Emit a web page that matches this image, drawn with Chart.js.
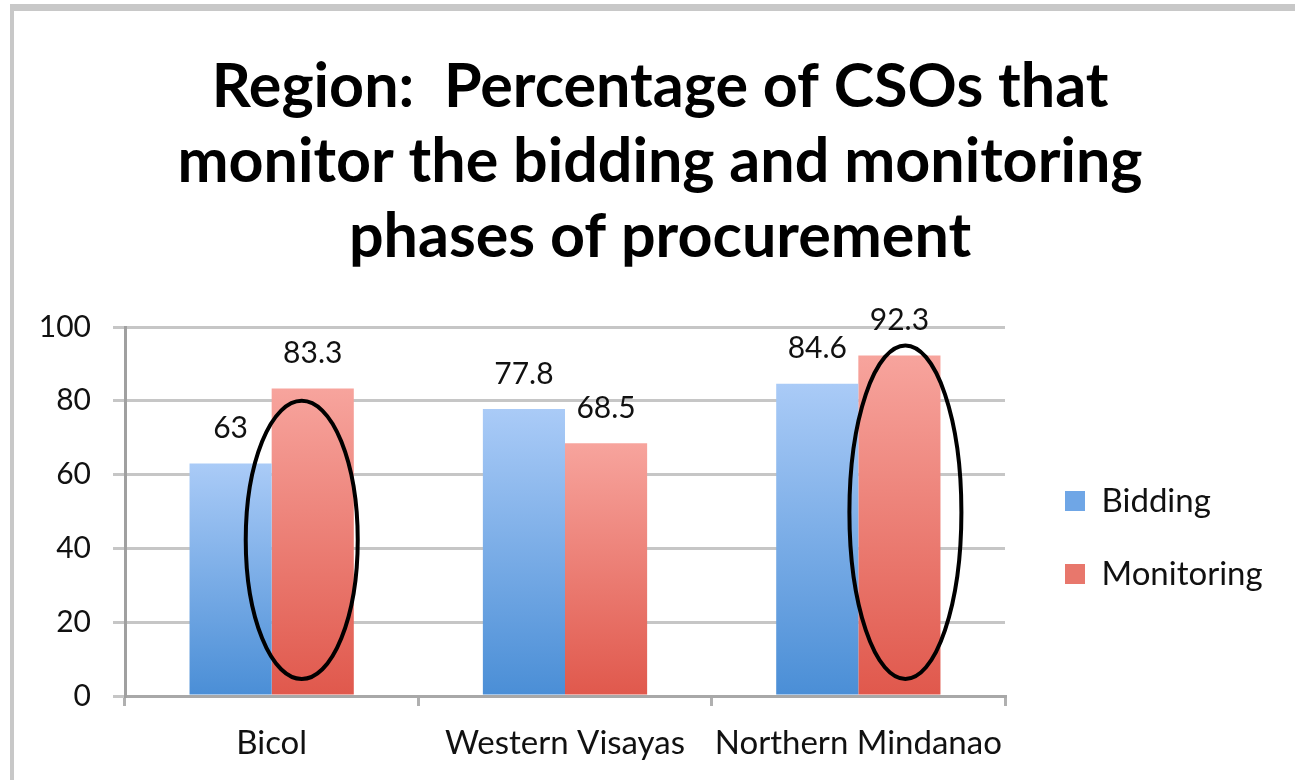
<!DOCTYPE html>
<html>
<head>
<meta charset="utf-8">
<script src="https://cdn.jsdelivr.net/npm/chart.js@4.4.1/dist/chart.umd.min.js"></script>
<style>
  html, body { margin: 0; padding: 0; background: #ffffff; }
  #wrap { position: relative; width: 1295px; height: 780px; overflow: hidden; }
  #frame { position: absolute; left: 10px; top: 4px; width: 1300px; height: 800px;
           border-top: 7px solid #c8c8c8; border-left: 4px solid #c8c8c8; pointer-events: none; }
  canvas { position: absolute; left: 0; top: 0; }
</style>
</head>
<body>
<div id="wrap">
  <canvas id="c" width="1295" height="780"></canvas>
  <div id="frame"></div>
</div>
<script>
// ---- data ----
const titleLines = ['Region:  Percentage of CSOs that', 'monitor the bidding and monitoring', 'phases of procurement'];
const categories = ['Bicol', 'Western Visayas', 'Northern Mindanao'];
const seriesNames = ['Bidding', 'Monitoring'];
const biddingValues = [63, 77.8, 84.6];
const monitoringValues = [83.3, 68.5, 92.3];
const yTicks = [0, 20, 40, 60, 80, 100];
// highlighted (circled) Monitoring bars: category, value range spanned by ellipse
const highlightCategories = ['Bicol', 'Northern Mindanao'];
const highlightTop = [80, 95];
const highlightBottom = [4.6, 4.6];

// ---- styles ----
const FONT = 'Lato, "Open Sans", sans-serif';
const ellipseStyle = { halfWidth: 56, xOffset: { 'Bicol': -11, 'Northern Mindanao': 6 }, lineWidth: 4 };

function barGradient(ctx, topColor, bottomColor) {
  const chart = ctx.chart;
  if (!chart.chartArea || !chart.scales.y) return bottomColor;
  const y = chart.scales.y;
  const top = y.getPixelForValue(ctx.raw);
  const bottom = y.getPixelForValue(0);
  if (!isFinite(top) || !isFinite(bottom) || top === bottom) return bottomColor;
  const g = chart.ctx.createLinearGradient(0, top, 0, bottom);
  g.addColorStop(0, topColor);
  g.addColorStop(1, bottomColor);
  return g;
}

const layoutPlugin = {
  id: 'layoutTweaks',
  beforeInit(chart) {
    const lg = chart.legend;
    if (lg) {
      const origFit = lg.fit;
      lg.fit = function () { origFit.apply(this, arguments); this.width = 290; };
    }
  },
  afterLayout(chart) {
    const lg = chart.legend;
    if (!lg) return;
    const pad = lg.options.labels.padding;
    const targetBoxLeft = 1065;
    const dx = targetBoxLeft - (lg.left + pad);
    lg.left += dx; lg.right += dx;
    const itemH = lg.options.labels.font.size;
    const colH = lg.columnSizes && lg.columnSizes[0] ? lg.columnSizes[0].height : 0;
    const startY = ((lg.top + pad) + (lg.bottom - colH)) / 2;
    const dy = (501 - itemH / 2) - startY;
    lg.top += dy; lg.bottom += dy;
  }
};

const labelPlugin = {
  id: 'valueLabels',
  afterDatasetsDraw(chart) {
    const ctx = chart.ctx;
    ctx.save();
    ctx.font = '30px ' + FONT;
    ctx.fillStyle = '#111111';
    ctx.textAlign = 'center';
    ctx.textBaseline = 'middle';
    chart.data.datasets.forEach((ds, di) => {
      const meta = chart.getDatasetMeta(di);
      meta.data.forEach((bar, i) => {
        ctx.fillText(String(ds.data[i]), bar.x, bar.y - 35);
      });
    });
    ctx.restore();
  }
};

const ellipsePlugin = {
  id: 'highlightEllipses',
  afterDatasetsDraw(chart) {
    const ctx = chart.ctx;
    const y = chart.scales.y;
    const meta = chart.getDatasetMeta(1);
    ctx.save();
    ctx.strokeStyle = '#000000';
    ctx.lineWidth = ellipseStyle.lineWidth;
    highlightCategories.forEach((cat, k) => {
      const idx = categories.indexOf(cat);
      const bar = meta.data[idx];
      if (!bar) return;
      const cx = bar.x + (ellipseStyle.xOffset[cat] || 0);
      const top = y.getPixelForValue(highlightTop[k]);
      const bottom = y.getPixelForValue(highlightBottom[k]);
      ctx.beginPath();
      ctx.ellipse(cx, (top + bottom) / 2, ellipseStyle.halfWidth, (bottom - top) / 2, 0, 0, Math.PI * 2);
      ctx.stroke();
    });
    ctx.restore();
  }
};

new Chart(document.getElementById('c'), {
  type: 'bar',
  data: {
    labels: categories,
    datasets: [
      { label: seriesNames[0], data: biddingValues,
        backgroundColor: (ctx) => barGradient(ctx, '#aacbf7', '#4a8ed6'),
        borderWidth: 0, categoryPercentage: 0.56, barPercentage: 1.0 },
      { label: seriesNames[1], data: monitoringValues,
        backgroundColor: (ctx) => barGradient(ctx, '#f7a49d', '#e0584c'),
        borderWidth: 0, categoryPercentage: 0.56, barPercentage: 1.0 }
    ]
  },
  options: {
    responsive: false,
    animation: false,
    devicePixelRatio: 1,
    layout: { padding: { left: 25, right: 0, top: 0, bottom: 0 } },
    plugins: {
      title: {
        display: true,
        text: titleLines,
        color: '#000000',
        font: { family: FONT, size: 61, weight: 'bold', lineHeight: 75 / 61 },
        padding: { top: 50, bottom: 52 }
      },
      legend: {
        display: true,
        position: 'right',
        labels: {
          color: '#111111',
          font: { family: FONT, size: 33 },
          boxWidth: 20,
          boxHeight: 20,
          padding: 40,
          generateLabels(chart) {
            const cols = ['#6fa6e6', '#e8776c'];
            return chart.data.datasets.map((ds, i) => ({
              text: ds.label, fillStyle: cols[i], strokeStyle: cols[i], lineWidth: 0,
              hidden: false, datasetIndex: i, fontColor: '#111111'
            }));
          }
        }
      },
      tooltip: { enabled: false }
    },
    scales: {
      x: {
        grid: { display: true, drawOnChartArea: false, drawTicks: true, tickLength: 10, color: '#b0b0b0', lineWidth: 3, offset: true },
        border: { display: true, color: '#a8a8a8', width: 3 },
        ticks: { color: '#111111', font: { family: FONT, size: 33 }, padding: 18, maxRotation: 0, autoSkip: false },
        afterFit(scale) { scale.height = 84; }
      },
      y: {
        min: 0, max: 100,
        afterBuildTicks(scale) { scale.ticks = yTicks.map(v => ({ value: v })); },
        grid: { color: '#c6c6c6', lineWidth: 3, tickLength: 12, drawTicks: true },
        border: { display: true, color: '#a0a0a0', width: 3 },
        ticks: { color: '#111111', font: { family: FONT, size: 30 }, padding: 22 },
        afterFit(scale) { scale.width = 100; }
      }
    }
  },
  plugins: [layoutPlugin, labelPlugin, ellipsePlugin]
});
</script>
</body>
</html>
